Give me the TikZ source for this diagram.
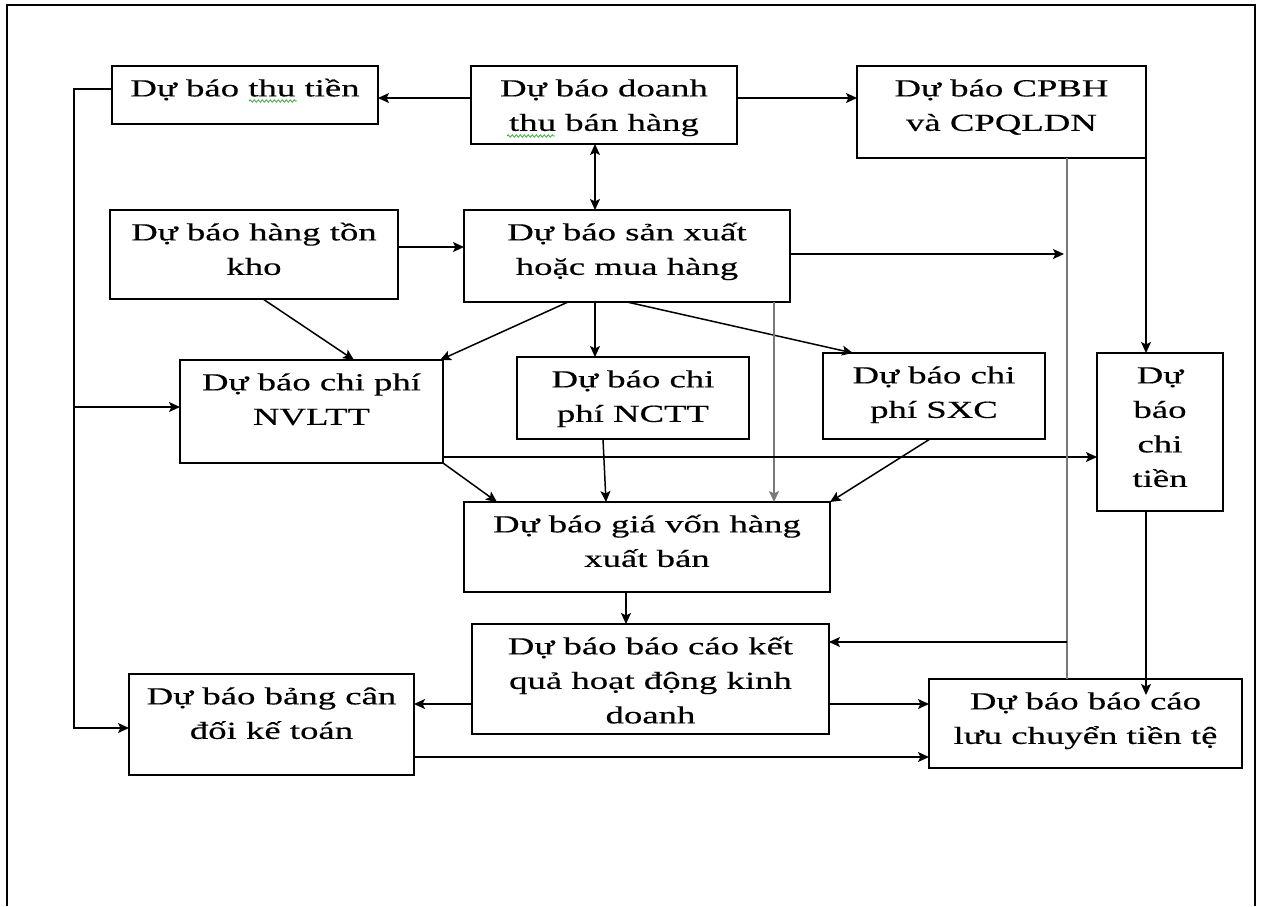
\documentclass[tikz,border=0pt]{standalone}
\usepackage{fontspec}
\setmainfont{Liberation Serif}[FakeStretch=1.5,FakeBold=0.4]
\usetikzlibrary{arrows.meta,calc,decorations.pathmorphing}
\definecolor{lgray}{RGB}{120,120,120}
\definecolor{sqgreen}{RGB}{60,170,60}
\newcommand\mkbox[6]{%
  \node[boxst, minimum width={(#4-#2)*1pt}, minimum height={(#5-#3)*1pt}, anchor=north west] (#1) at (#2,#3) {};
  \node[txtst, anchor=north] (#1-t) at ($(#1.north)+(0,6)$) {\begin{tabular}{@{}c@{}}#6\end{tabular}};}
\begin{document}
\begin{tikzpicture}[x=1pt,y=-1pt,
  boxst/.style={draw, line width=1.8pt, inner sep=0pt, outer sep=0pt},
  txtst/.style={inner sep=0pt, font=\fontsize{24.5}{34.5}\selectfont},
  arr/.style={line width=1.5pt, -{Stealth[length=11pt,width=10pt,inset=2.5pt]}},
  arrb/.style={line width=1.5pt, {Stealth[length=11pt,width=10pt,inset=2.5pt]}-{Stealth[length=11pt,width=10pt,inset=2.5pt]}},
  glink/.style={line width=2pt, draw=lgray},
  squig/.style={draw=sqgreen, line width=0.8pt, decorate, decoration={snake, amplitude=1.2pt, segment length=4pt}}]
\useasboundingbox (0,0) rectangle (1262,906);
\draw[line width=2pt] (7,906) -- (7,5) -- (1255,5) -- (1255,906);

\mkbox{tt}{112}{66}{378}{124}{Dự báo thu tiền}
\mkbox{dt}{471}{66}{737}{144}{Dự báo doanh\\thu bán hàng}
\mkbox{cp}{857}{66}{1146}{158}{Dự báo CPBH\\và CPQLDN}
\mkbox{ht}{110}{210}{398}{299}{Dự báo hàng tồn\\kho}
\mkbox{sx}{464}{210}{790}{302}{Dự báo sản xuất\\hoặc mua hàng}
\mkbox{nv}{180}{360}{443}{463}{Dự báo chi phí\\NVLTT}
\mkbox{nc}{517}{357}{749}{439}{Dự báo chi\\phí NCTT}
\mkbox{sc}{823}{353}{1045}{439}{Dự báo chi\\phí SXC}
\mkbox{ct}{1097}{353}{1223}{511}{Dự\\báo\\chi\\tiền}
\mkbox{gv}{464}{502}{830}{592}{Dự báo giá vốn hàng\\xuất bán}
\mkbox{kq}{472}{624}{829}{734}{Dự báo báo cáo kết\\quả hoạt động kinh\\doanh}
\mkbox{bc}{129}{674}{414}{775}{Dự báo bảng cân\\đối kế toán}
\mkbox{lc}{929}{679}{1242}{768}{Dự báo báo cáo\\lưu chuyển tiền tệ}

% spell-check squiggles
\draw[squig] (249,101) -- (297,101);
\draw[squig] (507,136) -- (555,136);

\coordinate (lx) at (74,0);
\coordinate (gl) at (1067,0);

% top row
\draw[arr] (dt.west |- 0,98) -- (tt.east |- 0,98);
\draw[arr] (dt.east |- 0,98) -- (cp.west |- 0,98);
\draw[arrb] (dt.south -| 595,0) -- (sx.north -| 595,0);
\draw[arr] (ht.east |- 0,247) -- (sx.west |- 0,247);
\draw[arr] (sx.east |- 0,254) -- ($(gl |- 0,254)+(-3,0)$);

% from production / inventory
\draw[arr] (ht.south -| 263,0) -- (nv.north -| 354,0);
\draw[arr] (sx.south -| 568,0) -- (nv.north -| 440,0);
\draw[arr] (sx.south -| 595,0) -- (nc.north -| 595,0);
\draw[arr] (sx.south -| 627,0) -- (sc.north -| 853,0);
\draw[arr, line width=2pt, draw=lgray] (sx.south -| 774,0) -- (gv.north -| 774,0);

% into cost of goods sold
\draw[arr] (nv.east |- 0,457) -- (ct.west |- 0,457);
\draw[arr] (nv.south east) -- (gv.north -| 497,0);
\draw[arr] (nc.south -| 603,0) -- (gv.north -| 606,0);
\draw[arr] (sc.south -| 930,0) -- (gv.north east);
\draw[arr] (gv.south -| 626,0) -- (kq.north -| 626,0);

% bottom
\draw[arr] (kq.west |- 0,704) -- (bc.east |- 0,704);
\draw[arr] (kq.east |- 0,704) -- (lc.west |- 0,704);
\draw[arr] (bc.east |- 0,757) -- (lc.west |- 0,757);

% right side
\draw[glink] (cp.south -| gl) -- (lc.north -| gl);
\draw[arr] (gl |- 0,642) -- (kq.east |- 0,642);
\draw[arr] (cp.south east) -- (ct.north -| cp.south east);
\draw[arr] (ct.south -| cp.south east) -- ($(lc.north -| cp.south east)+(0,16)$);

% left side
\draw[arr] (tt.west |- 0,89) -- (lx |- 0,89) -- (lx |- 0,728) -- (bc.west |- 0,728);
\draw[arr] (lx |- 0,407) -- (nv.west |- 0,407);
\end{tikzpicture}
\end{document}
